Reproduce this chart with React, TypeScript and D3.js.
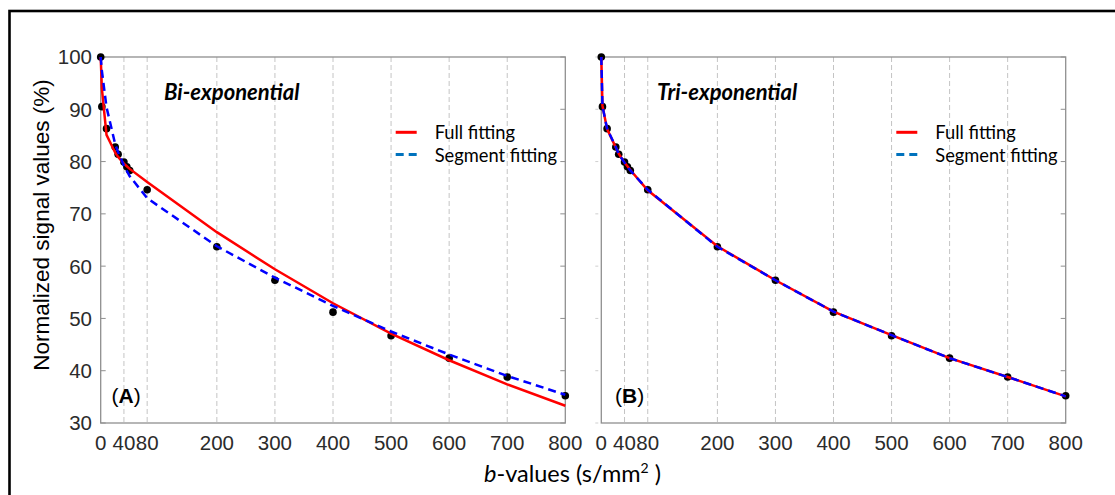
import React from "react";
import * as d3 from "d3";

// b-values (s/mm2) and measured signal (%)
const B_VALUES = [0, 2, 10, 25, 30, 40, 45, 50, 80, 200, 300, 400, 500, 600, 700, 800];
const SIGNAL = [100, 90.5, 86.3, 82.8, 81.4, 79.9, 79.0, 78.3, 74.6, 63.7, 57.3, 51.2, 46.7, 42.4, 38.8, 35.2];

// fitted curves evaluated at the same b-values
const BI_FULL = [100, 94.0, 85.1, 81.7, 80.9, 79.6, 79.1, 78.6, 76.1, 66.5, 59.4, 52.9, 47.1, 42.0, 37.4, 33.3];
const BI_SEGMENT = [100, 97.4, 90.4, 83.3, 81.8, 79.2, 78.2, 77.2, 73.0, 63.8, 57.8, 52.4, 47.5, 43.1, 39.0, 35.4];
const TRI_FULL = [100, 90.7, 86.2, 82.7, 81.5, 79.8, 79.1, 78.4, 74.5, 63.8, 57.3, 51.3, 46.8, 42.4, 38.8, 35.1];
const TRI_SEGMENT = [100, 90.6, 86.3, 82.8, 81.4, 79.8, 79.0, 78.3, 74.6, 63.7, 57.3, 51.3, 46.8, 42.4, 38.8, 35.1];

const X_TICKS = [0, 40, 80, 200, 300, 400, 500, 600, 700, 800];
const Y_TICKS = [30, 40, 50, 60, 70, 80, 90, 100];
const LEGEND = ["Full fitting", "Segment fitting"];

const WIDTH = 1115;
const HEIGHT = 495;
const TOP = 57;
const BOTTOM = 423;
const AXIS = "#8f8f8f";
const GRID = "#c4c4c4";
const TICK_FONT = "'Liberation Sans', Arial, sans-serif";
const LABEL_FONT = "Lato, 'Open Sans', sans-serif";

type PanelProps = {
  left: number;
  right: number;
  full: number[];
  segment: number[];
  title: string;
  titleX: number;
  label: string;
  labelX: number;
  yLabels: boolean;
};

const Panel = ({ left, right, full, segment, title, titleX, label, labelX, yLabels }: PanelProps) => {
  const x = d3.scaleLinear().domain([0, 800]).range([left, right]);
  const y = d3.scaleLinear().domain([30, 100]).range([BOTTOM, TOP]);
  const lineBuilder = d3
    .line<number>()
    .x((_, i) => x(B_VALUES[i]))
    .y((d) => y(d));

  const legendX = left + 295;

  return (
    <g>
      {/* grid */}
      {X_TICKS.filter((t) => t > 0 && t < 800).map((t) => (
        <line key={t} x1={x(t)} x2={x(t)} y1={TOP} y2={BOTTOM}
          stroke={GRID} strokeWidth={1} strokeDasharray="5,3" />
      ))}

      {/* box */}
      <rect x={left} y={TOP} width={right - left} height={BOTTOM - TOP}
        fill="none" stroke={AXIS} strokeWidth={1.3} />

      {/* y ticks */}
      {Y_TICKS.map((t) => (
        <g key={t}>
          {yLabels ? (
            <line x1={left} x2={left + 5} y1={y(t)} y2={y(t)} stroke={AXIS} />
          ) : (
            <line x1={left - 6} x2={left - 3} y1={y(t)} y2={y(t)} stroke="#cfcfcf" />
          )}
          <line x1={right - 5} x2={right} y1={y(t)} y2={y(t)} stroke={AXIS} />
          {yLabels && (
            <text x={92} y={y(t)} dy="0.36em" textAnchor="end" fontSize={20.5}
              fontFamily={TICK_FONT} fill="#2b2b2b">{t}</text>
          )}
        </g>
      ))}

      {/* x tick labels */}
      {X_TICKS.map((t) => (
        <text key={t} x={x(t)} y={450} textAnchor="middle" fontSize={20.5}
          fontFamily={TICK_FONT} fill="#2b2b2b">{t}</text>
      ))}

      {/* data points */}
      {SIGNAL.map((s, i) => (
        <circle key={i} cx={x(B_VALUES[i])} cy={y(s)} r={3.8} fill="#000" />
      ))}

      {/* fits */}
      <path d={lineBuilder(full) || ""} fill="none" stroke="#ff0000" strokeWidth={2.5} />
      <path d={lineBuilder(segment) || ""} fill="none" stroke="#0000ff" strokeWidth={2.5}
        strokeDasharray="8,5" />

      {/* title */}
      <text x={titleX} y={100} fontSize={22} fontWeight="bold" fontStyle="italic"
        fontFamily={LABEL_FONT} fill="#000">{title}</text>

      {/* legend */}
      <line x1={legendX} x2={legendX + 21} y1={132.3} y2={132.3} stroke="#ff0000" strokeWidth={3} />
      <line x1={legendX} x2={legendX + 21} y1={154.5} y2={154.5} stroke="#0072bd" strokeWidth={3}
        strokeDasharray="8,5" />
      <text x={legendX + 39} y={138.5} fontSize={18.3} fontFamily={LABEL_FONT} fill="#000">{LEGEND[0]}</text>
      <text x={legendX + 39} y={161.5} fontSize={18.3} fontFamily={LABEL_FONT} fill="#000">{LEGEND[1]}</text>

      {/* panel label */}
      <text x={labelX} y={403} fontSize={21} fontFamily={TICK_FONT} fill="#000">
        (<tspan fontWeight="bold">{label}</tspan>)
      </text>
    </g>
  );
};

export default function App() {
  return (
    <svg width={WIDTH} height={HEIGHT}
      style={{ position: "absolute", left: 0, top: 0, background: "#fff" }}>
      {/* outer frame running off the page */}
      <rect x={9.5} y={11} width={WIDTH + 20} height={HEIGHT + 20} fill="none" stroke="#000" strokeWidth={2.6} />

      <Panel left={100.7} right={565.3} full={BI_FULL} segment={BI_SEGMENT}
        title="Bi-exponential" titleX={164} label="A" labelX={111.5} yLabels={true} />
      <Panel left={601.3} right={1065.7} full={TRI_FULL} segment={TRI_SEGMENT}
        title="Tri-exponential" titleX={657} label="B" labelX={615} yLabels={false} />

      {/* axis titles */}
      <text transform="translate(49,225) rotate(-90)" textAnchor="middle" fontSize={22.5}
        fontFamily={TICK_FONT} fill="#000">Normalized signal values (%)</text>
      <text x={572.5} y={482} textAnchor="middle" fontSize={23.5} fontFamily={LABEL_FONT} fill="#000">
        <tspan fontStyle="italic">b</tspan>-values (s/mm
        <tspan fontSize={14} dy={-9}>2</tspan>
        <tspan dy={9}> )</tspan>
      </text>
    </svg>
  );
}
